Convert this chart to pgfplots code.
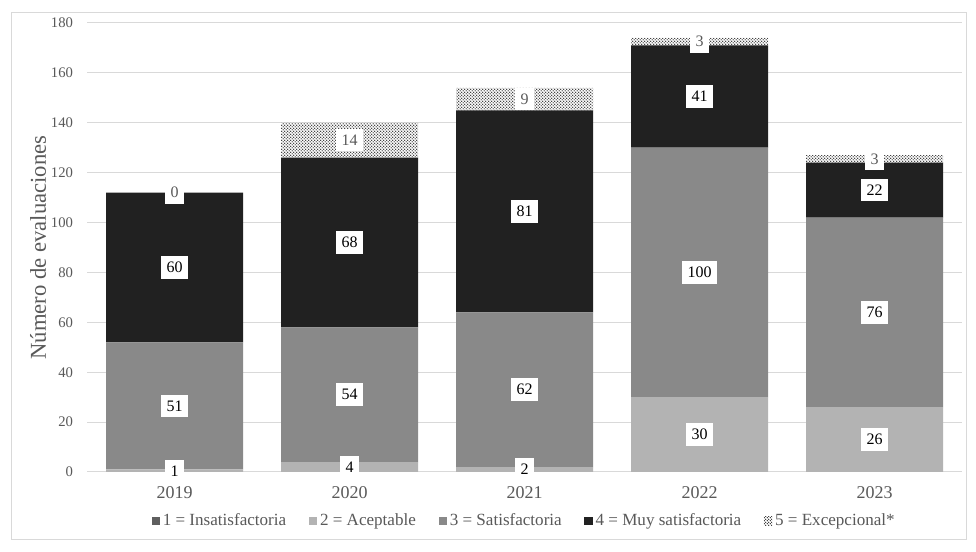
\documentclass[border=0pt]{standalone}
\usepackage{pgfplots}
\pgfplotsset{compat=1.18}
\usepackage{fontspec}
\setmainfont{Liberation Serif}
\usetikzlibrary{patterns}
\pgfdeclarepatternformonly{finedots}{\pgfqpoint{0pt}{0pt}}{\pgfqpoint{2.2pt}{2.2pt}}{\pgfqpoint{2.2pt}{2.2pt}}{%
 \pgfpathcircle{\pgfqpoint{0.55pt}{0.55pt}}{0.48pt}\pgfusepath{fill}%
 \pgfpathcircle{\pgfqpoint{1.65pt}{1.65pt}}{0.48pt}\pgfusepath{fill}}
\definecolor{c1}{HTML}{5F5F5F}
\definecolor{c2}{HTML}{B3B3B3}
\definecolor{c3}{HTML}{898989}
\definecolor{c4}{HTML}{212121}
\definecolor{gridc}{HTML}{D9D9D9}
\definecolor{tickc}{HTML}{595959}
\pgfplotsset{sqleg/.style={legend image code/.code={\path[##1] (0pt,-3.2pt) rectangle (6.4pt,3.2pt);}}}
\begin{document}
\begin{tikzpicture}[x=1pt,y=1pt]
\path[use as bounding box, fill=white] (0,0) rectangle (732,414);
\draw[color=gridc, line width=0.75pt] (8.25,9) rectangle (724.5,404.25);
\begin{axis}[at={(65.25pt,60pt)}, anchor=south west,
  scale only axis, width=656.25pt, height=336.75pt,
  xmin=-0.5, xmax=4.5, ymin=0, ymax=180,
  ybar stacked, bar width=102.75pt,
  ytick={0,20,...,180}, xtick={0,1,2,3,4}, xticklabels={2019,2020,2021,2022,2023},
  ymajorgrids, grid style={color=gridc, line width=0.75pt},
  axis line style={draw=none}, major tick length=0,
  tick label style={text=tickc},
  yticklabel style={font=\fontsize{11}{13}\selectfont, xshift=-7pt},
  xticklabel style={font=\fontsize{13.5}{16}\selectfont, yshift=-7pt},
  /pgf/number format/assume math mode=true,
  ylabel={Número de evaluaciones},
  ylabel style={at={(axis description cs:-0.056,0.5)}, anchor=center, font=\fontsize{17}{20}\selectfont, text=tickc},
  legend style={at={(0.5,-0.109)}, anchor=center, draw=none, fill=none, legend columns=5,
    font=\fontsize{12.8}{15}\selectfont, text=tickc,
    /tikz/every even column/.append style={column sep=15pt}},
]
\addplot[fill=c1, draw=none, sqleg] coordinates {(0,0) (1,0) (2,0) (3,0) (4,0)};
\addlegendentry{1 = Insatisfactoria}
\addplot[fill=c2, draw=none, sqleg] coordinates {(0,1) (1,4) (2,2) (3,30) (4,26)};
\addlegendentry{2 = Aceptable}
\addplot[fill=c3, draw=none, sqleg] coordinates {(0,51) (1,54) (2,62) (3,100) (4,76)};
\addlegendentry{3 = Satisfactoria}
\addplot[fill=c4, draw=none, sqleg] coordinates {(0,60) (1,68) (2,81) (3,41) (4,22)};
\addlegendentry{4 = Muy satisfactoria}
\addplot[fill=white, draw=none, postaction={pattern=finedots}, sqleg] coordinates {(0,0) (1,14) (2,9) (3,3) (4,3)};
\addlegendentry{5 = Excepcional*}
\end{axis}
\begin{axis}[at={(65.25pt,60pt)}, anchor=south west,
  scale only axis, width=656.25pt, height=336.75pt,
  xmin=-0.5, xmax=4.5, ymin=0, ymax=180, hide axis, clip=false]
\addplot[draw=none, mark=none, nodes near coords, point meta=explicit symbolic,
  every node near coord/.append style={anchor=center, fill=white, text=black, inner xsep=4pt, inner ysep=4.4pt, font=\fontsize{12}{14}\selectfont}]
  coordinates {(0,0.5)[1] (1,2)[4] (2,1)[2] (3,15)[30] (4,13)[26]
               (0,26.5)[51] (1,31)[54] (2,33)[62] (3,80)[100] (4,64)[76]
               (0,82)[60] (1,92)[68] (2,104.5)[81] (3,150.5)[41] (4,113)[22]};
\addplot[draw=none, mark=none, nodes near coords, point meta=explicit symbolic,
  every node near coord/.append style={anchor=center, fill=white, text=tickc, inner xsep=4pt, inner ysep=4.4pt, font=\fontsize{12}{14}\selectfont}]
  coordinates {(0,112)[0] (1,133)[14] (2,149.5)[9] (3,172.5)[3] (4,125.5)[3]};
\end{axis}
\end{tikzpicture}
\end{document}
